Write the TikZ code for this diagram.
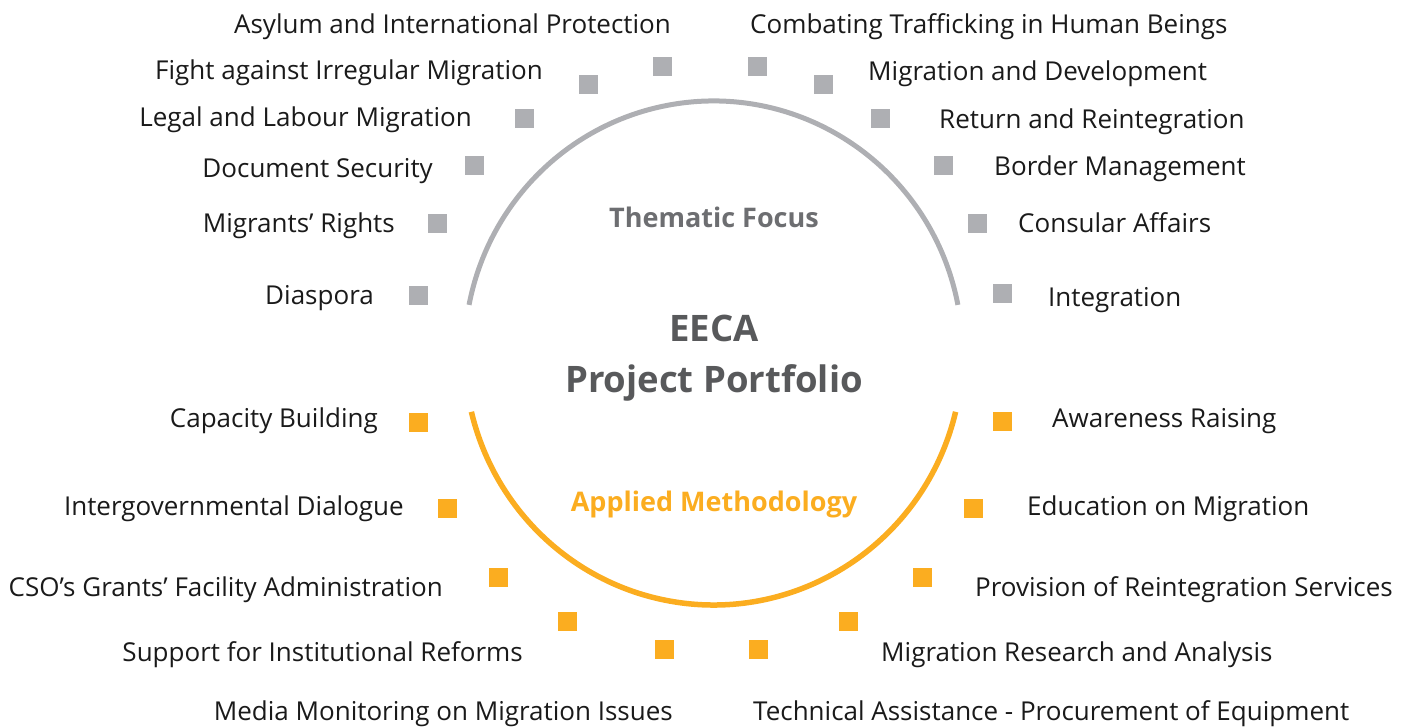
\documentclass[tikz,border=0pt]{standalone}
\usepackage{fontspec}
\setmainfont{Open Sans}
\usetikzlibrary{positioning}

\definecolor{focusgray}{HTML}{AEAFB3}
\definecolor{methodorange}{HTML}{FBAD20}
\definecolor{titlegray}{HTML}{58595B}
\definecolor{focustext}{HTML}{6D6E71}
\definecolor{labeltext}{HTML}{1A1A1A}

\begin{document}
\begin{tikzpicture}[x=1pt,y=-1pt,
	every node/.append style={font=\fontsize{26}{30}\selectfont, text=labeltext, inner sep=0pt},
	focusbox/.style={shape=rectangle, fill=focusgray, minimum size=19pt},
	methodbox/.style={shape=rectangle, fill=methodorange, minimum size=19pt},
	leftlabel/.style={anchor=base east},
	rightlabel/.style={anchor=base west}]
	\useasboundingbox (0,0) rectangle (1410,727);

	% Circle in two halves
	\draw[focusgray, line width=5pt] (957.9,304.9) arc[start angle=-11, end angle=-169, x radius=249, y radius=252];
	\draw[methodorange, line width=5.5pt] (955.6,411.8) arc[start angle=13.5, end angle=166.5, x radius=249, y radius=252];

	\node [font=\fontsize{36.5}{51}\selectfont\bfseries, text=titlegray, align=center] (title) at (714,358) {EECA\\Project Portfolio};
	\node [font=\fontsize{27}{30}\selectfont\bfseries, text=focustext] (focus) at (714,217) {Thematic Focus};
	\node [font=\fontsize{27}{30}\selectfont\bfseries, text=methodorange] (method) at (714,504) {Applied Methodology};

	% Thematic focus
	\node [focusbox] (sq-asylum) at (662,67) {};
	\node [focusbox] (sq-fight) at (588,85) {};
	\node [focusbox] (sq-legal) at (524,119) {};
	\node [focusbox] (sq-document) at (474,166) {};
	\node [focusbox] (sq-rights) at (437,224) {};
	\node [focusbox] (sq-diaspora) at (418,295) {};
	\node [focusbox] (sq-trafficking) at (757,67) {};
	\node [focusbox] (sq-development) at (823,85) {};
	\node [focusbox] (sq-return) at (880,119) {};
	\node [focusbox] (sq-border) at (943,166) {};
	\node [focusbox] (sq-consular) at (977,224) {};
	\node [focusbox] (sq-integration) at (1002,293) {};

	\node [leftlabel] (lb-asylum) at (671,34) {Asylum and International Protection};
	\node [leftlabel] (lb-fight) at (543,80) {Fight against Irregular Migration};
	\node [leftlabel] (lb-legal) at (472,127) {Legal and Labour Migration};
	\node [leftlabel] (lb-document) at (433,178) {Document Security};
	\node [leftlabel] (lb-rights) at (395,233) {Migrants’ Rights};
	\node [leftlabel] (lb-diaspora) at (374,304) {Diaspora};
	\node [rightlabel] (lb-trafficking) at (750,34) {Combating Trafficking in Human Beings};
	\node [rightlabel] (lb-development) at (868,81) {Migration and Development};
	\node [rightlabel] (lb-return) at (939,129) {Return and Reintegration};
	\node [rightlabel] (lb-border) at (994,176) {Border Management};
	\node [rightlabel] (lb-consular) at (1018,233) {Consular Affairs};
	\node [rightlabel] (lb-integration) at (1048,306) {Integration};

	% Applied methodology
	\node [methodbox] (sq-capacity) at (418,422) {};
	\node [methodbox] (sq-dialogue) at (447,508) {};
	\node [methodbox] (sq-grants) at (498,577) {};
	\node [methodbox] (sq-reforms) at (567,621) {};
	\node [methodbox] (sq-media) at (664,649) {};
	\node [methodbox] (sq-awareness) at (1002,421) {};
	\node [methodbox] (sq-education) at (973,508) {};
	\node [methodbox] (sq-provision) at (922,577) {};
	\node [methodbox] (sq-research) at (848,621) {};
	\node [methodbox] (sq-technical) at (758,649) {};

	\node [leftlabel] (lb-capacity) at (378,427) {Capacity Building};
	\node [leftlabel] (lb-dialogue) at (404,515) {Intergovernmental Dialogue};
	\node [leftlabel] (lb-grants) at (443,596) {CSO’s Grants’ Facility Administration};
	\node [leftlabel] (lb-reforms) at (523,661) {Support for Institutional Reforms};
	\node [leftlabel] (lb-media) at (673,720) {Media Monitoring on Migration Issues};
	\node [rightlabel] (lb-awareness) at (1052,427) {Awareness Raising};
	\node [rightlabel] (lb-education) at (1027,515) {Education on Migration};
	\node [rightlabel] (lb-provision) at (975,596) {Provision of Reintegration Services};
	\node [rightlabel] (lb-research) at (881,661) {Migration Research and Analysis};
	\node [rightlabel] (lb-technical) at (753,720) {Technical Assistance - Procurement of Equipment};
\end{tikzpicture}
\end{document}
